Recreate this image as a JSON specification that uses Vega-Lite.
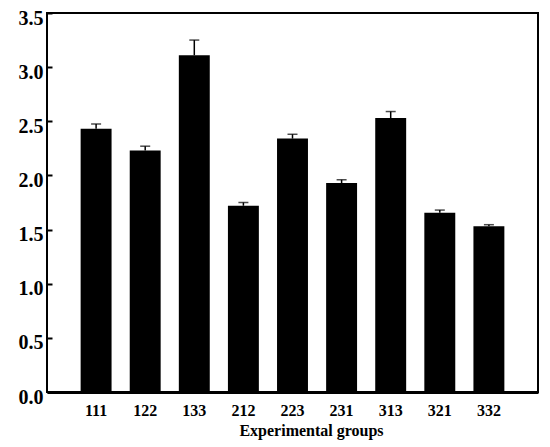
{
  "$schema": "https://vega.github.io/schema/vega-lite/v6.json",
  "autosize": {"type": "none"},
  "padding": {"left": 47, "top": 13, "right": 12, "bottom": 55},
  "width": 491,
  "height": 379,
  "background": "white",
  "config": {
    "view": {"stroke": "black", "strokeWidth": 2},
    "font": "Liberation Serif"
  },
  "data": {
    "values": [
      {"group": "111", "value": 2.43, "upper": 2.475},
      {"group": "122", "value": 2.23, "upper": 2.27},
      {"group": "133", "value": 3.11, "upper": 3.25},
      {"group": "212", "value": 1.72, "upper": 1.75},
      {"group": "223", "value": 2.34, "upper": 2.38},
      {"group": "231", "value": 1.93, "upper": 1.96},
      {"group": "313", "value": 2.53, "upper": 2.59},
      {"group": "321", "value": 1.655, "upper": 1.68},
      {"group": "332", "value": 1.53, "upper": 1.545}
    ]
  },
  "encoding": {
    "x": {
      "field": "group",
      "type": "nominal",
      "sort": null,
      "scale": {"paddingInner": 0.37, "paddingOuter": 0.685},
      "axis": {
        "title": "Experimental groups",
        "titleFont": "Liberation Serif",
        "titleFontSize": 16,
        "titleFontWeight": "bold",
        "titleColor": "black",
        "titlePadding": 4,
        "titleX": 264,
        "labelAngle": 0,
        "labelFont": "Liberation Serif",
        "labelFontSize": 16,
        "labelFontWeight": "bold",
        "labelColor": "black",
        "labelPadding": 10,
        "ticks": false,
        "domain": true,
        "domainColor": "black",
        "domainWidth": 3
      }
    }
  },
  "layer": [
    {
      "mark": {"type": "bar", "color": "black"},
      "encoding": {
        "y": {
          "field": "value",
          "type": "quantitative",
          "scale": {"domain": [0, 3.5], "nice": false},
          "axis": {
            "title": null,
            "values": [0, 0.5, 1, 1.5, 2, 2.5, 3, 3.5],
            "format": ".1f",
            "grid": false,
            "domain": false,
            "tickSize": -5,
            "tickColor": "black",
            "tickWidth": 2,
            "labelPadding": 9,
            "labelOffset": 5,
            "labelFont": "Liberation Serif",
            "labelFontSize": 20,
            "labelFontWeight": "bold",
            "labelColor": "black"
          }
        }
      }
    },
    {
      "mark": {"type": "rule", "color": "black", "strokeWidth": 1.5},
      "encoding": {
        "y": {"field": "value", "type": "quantitative"},
        "y2": {"field": "upper"}
      }
    },
    {
      "mark": {"type": "tick", "color": "black", "thickness": 1.5, "size": 10},
      "encoding": {
        "y": {"field": "upper", "type": "quantitative"}
      }
    }
  ]
}
